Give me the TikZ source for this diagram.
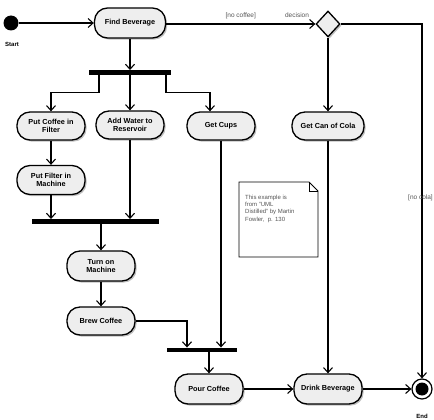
\documentclass[tikz,border=0pt]{standalone}
\usepackage{fontspec}
\setmainfont{Liberation Sans}
\usetikzlibrary{arrows.meta,shapes.geometric,shadows}
\definecolor{actfill}{HTML}{EEEEEE}
\definecolor{labgray}{HTML}{555555}
\tikzset{
  act/.style={draw, line width=1.3pt, fill=actfill, rounded corners=13pt,
    minimum width=68pt, minimum height=28pt, inner sep=1pt, align=center,
    font=\bfseries\fontsize{7.3}{8.5}\selectfont,
    drop shadow={shadow xshift=1.6pt, shadow yshift=-1.6pt, fill=black, opacity=0.25}},
  bar/.style={fill=black, inner sep=0pt, minimum height=4.5pt},
  arr/.style={line width=1.1pt, -{Straight Barb[length=5pt,width=9pt,line width=1.1pt]}},
  lab/.style={text=labgray, inner sep=0pt, font=\fontsize{6.5}{7.5}\selectfont},
  term/.style={inner sep=0pt, font=\bfseries\fontsize{6}{7}\selectfont},
}
\begin{document}
\begin{tikzpicture}[x=1pt,y=-1pt]
\useasboundingbox (0,0) rectangle (434,420);
\clip (0,0) rectangle (434,420);
% start
\node[circle, fill=black, minimum size=15pt, inner sep=0pt] (start) at (11,23) {};
\node[term] (startlab) at (12,44) {Start};
% activities
\node[act, minimum width=71pt, minimum height=30pt] (find) at (130,23) {Find Beverage};
\node[act] (put) at (51,126) {Put Coffee in\\Filter};
\node[act] (add) at (130,125) {Add Water to\\Reservoir};
\node[act] (cups) at (221,126) {Get Cups};
\node[act, minimum height=29pt] (filter) at (51,180) {Put Filter in\\Machine};
\node[act, minimum height=30pt] (turn) at (101,266) {Turn on\\Machine};
\node[act] (brew) at (101,321) {Brew Coffee};
\node[act, minimum height=30pt] (pour) at (209,389) {Pour Coffee};
\node[act, minimum height=30pt] (drink) at (328,389) {Drink Beverage};
\node[act, minimum width=72pt] (cola) at (328,126) {Get Can of Cola};
% decision
\node[diamond, draw, line width=1.3pt, fill=actfill, inner sep=0pt, minimum width=24pt, minimum height=26pt,
  drop shadow={shadow xshift=1.6pt, shadow yshift=-1.6pt, fill=black, opacity=0.25}] (dec) at (328,24) {};
\node[lab] (declab) at (297,15) {decision};
% bars
\node[bar, minimum width=82pt] (bar1) at (130,72.5) {};
\node[bar, minimum width=127pt] (bar2) at (95.5,221.5) {};
\node[bar, minimum width=70pt] (bar3) at (202,350) {};
% end
\node[circle, draw, line width=1.2pt, fill=white, minimum size=20pt, inner sep=0pt] (end) at (422,389) {};
\node[circle, fill=black, minimum size=13pt, inner sep=0pt] (endin) at (end.center) {};
\node[term] (endlab) at (422,416) {End};
% connectors
\draw[arr] (start) -- (find);
\draw[arr] (find.east |- dec) -- node[lab, above=5pt, pos=0.5] (nocoffee) {[no coffee]} (dec.west);
\draw[arr] (dec.east) -| (end.north);
\node[lab, anchor=west] (nocola) at (408,198) {[no cola]};
\draw[arr] (dec) -- (cola);
\draw[arr] (cola) -- (drink);
\draw[arr] (find) -- (bar1);
\draw[arr] ([xshift=-31pt]bar1.south) -- ++(0,18) -| (put.north);
\draw[arr] (bar1) -- (add);
\draw[arr] ([xshift=36pt]bar1.south) -- ++(0,18) -| ([xshift=-11pt]cups.north);
\draw[arr] (put) -- (filter);
\draw[arr] (filter) -- (filter |- bar2.north);
\draw[arr] (add) -- (add |- bar2.north);
\draw[arr] (turn |- bar2.south) -- (turn);
\draw[arr] (turn) -- (brew);
\draw[arr] (brew.east) -| ([xshift=-15pt]bar3.north);
\draw[arr] (cups) -- (cups |- bar3.north);
\draw[arr] (pour |- bar3.south) -- (pour);
\draw[arr] (pour) -- (drink);
\draw[arr] (drink) -- (end);
% note
\draw[line width=0.9pt, fill=white] (239,182) -- (309,182) -- (318,191) -- (318,257) -- (239,257) -- cycle;
\draw[line width=0.9pt] (309,182) -- (309,191) -- (318,191);
\node[lab, anchor=north west, align=left, font=\fontsize{6}{7.2}\selectfont] (notetext) at (245,195)
  {This example is\\from "UML\\Distilled" by Martin\\Fowler,\ \ p. 130};
\end{tikzpicture}
\end{document}
